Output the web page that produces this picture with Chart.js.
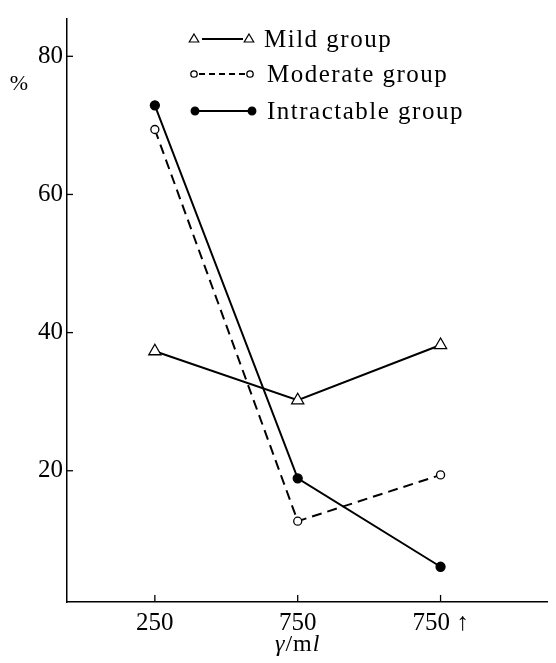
<!DOCTYPE html>
<html><head><meta charset="utf-8">
<script src="https://cdn.jsdelivr.net/npm/chart.js@4/dist/chart.umd.min.js"></script>
<style>html,body{margin:0;padding:0;background:#fff}#wrap{width:556px;height:663px;position:relative}</style>
</head><body><div id="wrap"><canvas id="c"></canvas></div>
<script>
const categories = ['250', '750', '750 ↑'];
const mildGroup = [37.3, 30.2, 38.2];
const moderateGroup = [69.4, 12.7, 19.4];
const intractableGroup = [72.9, 18.9, 6.1];
const yTicks = [20, 40, 60, 80];
const seriesNames = ['Mild group', 'Moderate group', 'Intractable group'];
const yLabel = '%';
const xLabelParts = [['γ', 'italic'], ['/', 'normal'], ['m', 'normal'], ['l', 'italic']];

const FONT = "'Liberation Serif', 'DejaVu Serif', serif";
const toPts = arr => arr.map((v, i) => ({ x: i + 1, y: v }));

function drawTri(ctx, x, y, r) {
  ctx.beginPath();
  ctx.moveTo(x, y - r);
  ctx.lineTo(x + r * 0.95, y + r * 0.6);
  ctx.lineTo(x - r * 0.95, y + r * 0.6);
  ctx.closePath();
  ctx.fillStyle = '#fff'; ctx.fill();
  ctx.lineWidth = 1.2; ctx.strokeStyle = '#000'; ctx.stroke();
}
function drawCirc(ctx, x, y, r, filled) {
  ctx.beginPath();
  ctx.arc(x, y, r, 0, Math.PI * 2);
  ctx.fillStyle = filled ? '#000' : '#fff'; ctx.fill();
  ctx.lineWidth = 1.3; ctx.strokeStyle = '#000'; ctx.stroke();
}

const decor = {
  id: 'decor',
  afterDraw(chart) {
    const ctx = chart.ctx;
    const xs = chart.scales.x, ys = chart.scales.y;
    const area = chart.chartArea;
    ctx.save();
    ctx.strokeStyle = '#000';
    ctx.lineWidth = 1.3;
    yTicks.forEach(v => {
      const py = ys.getPixelForValue(v);
      ctx.beginPath(); ctx.moveTo(area.left, py); ctx.lineTo(area.left + 6, py); ctx.stroke();
    });
    categories.forEach((c, i) => {
      const px = xs.getPixelForValue(i + 1);
      ctx.beginPath(); ctx.moveTo(px, area.bottom); ctx.lineTo(px, area.bottom - 7); ctx.stroke();
    });
    ctx.fillStyle = '#000';
    ctx.font = '22px ' + FONT;
    ctx.textAlign = 'center'; ctx.textBaseline = 'middle';
    ctx.fillText(yLabel, 19, 84);
    let total = 0;
    const widths = xLabelParts.map(([t, st]) => { ctx.font = st + ' 24px ' + FONT; const w = ctx.measureText(t).width + 1; total += w; return w; });
    let cx = xs.getPixelForValue(2) - total / 2;
    ctx.textAlign = 'left';
    xLabelParts.forEach(([t, st], i) => { ctx.font = st + ' 24px ' + FONT; ctx.fillText(t, cx, 645); cx += widths[i]; });
    const rows = [
      { y: 39, a: 194, b: 249, l1: 202, l2: 243, tx: 264, kind: 'tri' },
      { y: 74, a: 194, b: 250, l1: 199, l2: 245, tx: 267, kind: 'circ' },
      { y: 111, a: 195, b: 252, l1: 195, l2: 252, tx: 267, kind: 'dot' }
    ];
    rows.forEach((r, i) => {
      ctx.lineWidth = 2; ctx.strokeStyle = '#000';
      ctx.setLineDash(r.kind === 'circ' ? [6, 4] : []);
      ctx.beginPath(); ctx.moveTo(r.l1, r.y); ctx.lineTo(r.l2, r.y); ctx.stroke();
      ctx.setLineDash([]);
      if (r.kind === 'tri') { drawTri(ctx, r.a, r.y, 5); drawTri(ctx, r.b, r.y, 5); }
      else if (r.kind === 'circ') { drawCirc(ctx, r.a, r.y, 3.2, false); drawCirc(ctx, r.b, r.y, 3.2, false); }
      else { drawCirc(ctx, r.a, r.y, 3.8, true); drawCirc(ctx, r.b, r.y, 3.8, true); }
      ctx.fillStyle = '#000';
      ctx.font = '25px ' + FONT;
      ctx.letterSpacing = '1.5px';
      ctx.textAlign = 'left'; ctx.textBaseline = 'middle';
      ctx.fillText(seriesNames[i], r.tx, r.y + 1);
      ctx.letterSpacing = '0px';
    });
    ctx.restore();
  }
};

const base = { borderColor: '#000', borderWidth: 2, tension: 0, pointBorderColor: '#000', pointBorderWidth: 1.3, pointHoverRadius: 5 };

new Chart(document.getElementById('c'), {
  type: 'line',
  data: {
    datasets: [
      Object.assign({}, base, { label: seriesNames[0], data: toPts(mildGroup), pointStyle: 'triangle', pointRadius: 7, pointBackgroundColor: '#fff', order: 3 }),
      Object.assign({}, base, { label: seriesNames[1], data: toPts(moderateGroup), borderDash: [10, 6], pointStyle: 'circle', pointRadius: 4, pointBackgroundColor: '#fff', order: 2 }),
      Object.assign({}, base, { label: seriesNames[2], data: toPts(intractableGroup), pointStyle: 'circle', pointRadius: 4.5, pointBackgroundColor: '#000', order: 1 })
    ]
  },
  options: {
    responsive: true,
    maintainAspectRatio: false,
    animation: false,
    events: [],
    layout: { padding: { left: 0, right: 8, top: 5, bottom: 0 } },
    plugins: { legend: { display: false }, tooltip: { enabled: false } },
    scales: {
      x: {
        type: 'linear', min: 0.385, max: 3.75,
        afterBuildTicks: s => { s.ticks = categories.map((c, i) => ({ value: i + 1 })); },
        afterFit: s => { s.height = 61; },
        grid: { display: false, drawTicks: false },
        border: { display: true, color: '#000', width: 1.5 },
        ticks: { callback: v => categories[Math.round(v) - 1] || '', color: '#000', font: { family: FONT, size: 25 }, padding: 6, maxRotation: 0, autoSkip: false }
      },
      y: {
        type: 'linear', min: 1, max: 85.4,
        afterBuildTicks: s => { s.ticks = yTicks.map(v => ({ value: v })); },
        afterFit: s => { s.width = 67; },
        grid: { display: false, drawTicks: false },
        border: { display: true, color: '#000', width: 1.5 },
        ticks: { callback: v => String(v), color: '#000', font: { family: FONT, size: 25 }, padding: 4, autoSkip: false }
      }
    }
  },
  plugins: [decor]
});
</script>
</body></html>
